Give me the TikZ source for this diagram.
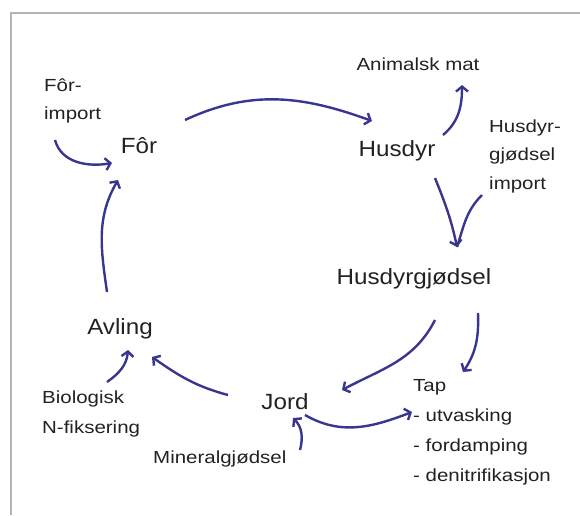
\documentclass[tikz,border=0pt]{standalone}
\usepackage{fontspec}
\setmainfont{Liberation Sans}
\newfontfamily\bigfont[FakeStretch=1.1]{Liberation Sans}
\newfontfamily\smallfont[FakeStretch=1.17]{Liberation Sans}
\usetikzlibrary{arrows.meta}
\definecolor{flow}{HTML}{3A3690}
\definecolor{ink}{HTML}{222222}
\definecolor{framegray}{HTML}{B4B4B4}
\tikzset{
  main/.style={font=\bigfont\fontsize{22}{26}\selectfont, text=ink, inner sep=0pt, anchor=base},
  side/.style={font=\smallfont\fontsize{17.5}{21}\selectfont, text=ink, inner sep=0pt, anchor=base west},
  sidec/.style={side, anchor=base},
  flowarrow/.style={draw=flow, line width=2.4pt, -{Straight Barb[length=5pt,width=12pt]}},
  flowline/.style={draw=flow, line width=2.4pt},
}
\begin{document}
\begin{tikzpicture}[x=1pt,y=1pt]
  \useasboundingbox (0,0) rectangle (580,515);
  \fill[white] (0,0) rectangle (580,515);
  % frame lines along the top and left edges
  \draw[framegray, line width=1.5pt] (11,0) -- (11,502) -- (580,502);

  % main stations of the nitrogen cycle
  \node[main] (for)     at (139,362) {Fôr};
  \node[main] (husdyr)  at (397,359) {Husdyr};
  \node[main] (gjodsel) at (414,231) {Husdyrgjødsel};
  \node[main] (avling)  at (120,181) {Avling};
  \node[main] (jord)    at (285,106) {Jord};

  % inputs and outputs
  \node[side]  (forimport) at (44,423)  {\vtop{\baselineskip=28pt\hbox{Fôr-}\hbox{import}}};
  \node[sidec] (mat)       at (418,444) {Animalsk mat};
  \node[side]  (hgimport)  at (489,382) {\vtop{\baselineskip=28pt\hbox{Husdyr-}\hbox{gjødsel}\hbox{import}}};
  \node[side]  (bio)       at (42,112)  {\vtop{\baselineskip=30pt\hbox{Biologisk}\hbox{N-fiksering}}};
  \node[side]  (mineral)   at (153,52)  {Mineralgjødsel};
  \node[side]  (tap)       at (413,124) {\vtop{\baselineskip=30pt\hbox{Tap}\hbox{- utvasking}\hbox{- fordamping}\hbox{- denitrifikasjon}}};

  % arrow end points
  \coordinate (forimportOut) at (55,375);
  \coordinate (forInA)       at (112,352);
  \coordinate (avlingOut)    at (107,223);
  \coordinate (forInB)       at (118,335);
  \coordinate (forOut)       at (185,395);
  \coordinate (husdyrIn)     at (372,394);
  \coordinate (husdyrUp)     at (443,380);
  \coordinate (matIn)        at (462,430);
  \coordinate (husdyrDown)   at (435,337);
  \coordinate (hgimportOut)  at (482,320);
  \coordinate (gjodselIn)    at (457,268);
  \coordinate (gjodselOutA)  at (435,195);
  \coordinate (jordInA)      at (342,125);
  \coordinate (gjodselOutB)  at (478,202);
  \coordinate (tapInA)       at (463,143);
  \coordinate (jordOut)      at (305,100);
  \coordinate (tapInB)       at (412,103);
  \coordinate (mineralOut)   at (300,65);
  \coordinate (jordInB)      at (293,97);
  \coordinate (jordOutB)     at (228,120);
  \coordinate (avlingInA)    at (152,158);
  \coordinate (bioOut)       at (107,133);
  \coordinate (avlingInB)    at (128,165);

  % flows
  \draw[flowarrow] (forimportOut) to[out=-75, in=190] (forInA);
  \draw[flowarrow] (avlingOut) to[out=98, in=240] (forInB);
  \draw[flowarrow] (forOut) to[out=25, in=160] (husdyrIn);
  \draw[flowarrow] (husdyrUp) to[out=40, in=-90] (matIn);
  \draw[flowline]  (hgimportOut) to[out=225, in=72] (gjodselIn);
  \draw[flowarrow] (husdyrDown) to[out=-68, in=102] (gjodselIn);
  \draw[flowarrow] (gjodselOutA) to[out=243, in=28] (jordInA);
  \draw[flowarrow] (gjodselOutB) to[out=-88, in=56] (tapInA);
  \draw[flowarrow] (jordOut) to[out=-30, in=201] (tapInB);
  \draw[flowarrow] (mineralOut) to[out=75, in=-45] (jordInB);
  \draw[flowarrow] (jordOutB) to[out=165, in=-35] (avlingInA);
  \draw[flowarrow] (bioOut) to[out=35, in=-95] (avlingInB);
\end{tikzpicture}
\end{document}
